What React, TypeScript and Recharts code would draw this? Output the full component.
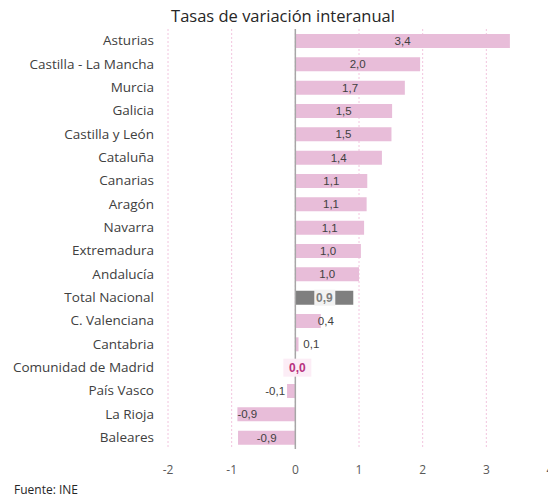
import React from 'react';
import { BarChart, Bar, XAxis, YAxis, CartesianGrid, ReferenceLine, LabelList, Cell } from 'recharts';

const regions = [
  'Asturias', 'Castilla - La Mancha', 'Murcia', 'Galicia', 'Castilla y León', 'Cataluña',
  'Canarias', 'Aragón', 'Navarra', 'Extremadura', 'Andalucía', 'Total Nacional',
  'C. Valenciana', 'Cantabria', 'Comunidad de Madrid', 'País Vasco', 'La Rioja', 'Baleares',
];
const rates = [3.37, 1.96, 1.72, 1.52, 1.51, 1.36, 1.13, 1.12, 1.08, 1.03, 1.0, 0.91, 0.4, 0.05, 0.01, -0.13, -0.91, -0.9];
const rateLabels = ['3,4', '2,0', '1,7', '1,5', '1,5', '1,4', '1,1', '1,1', '1,1', '1,0', '1,0', '0,9', '0,4', '0,1', '0,0', '-0,1', '-0,9', '-0,9'];
const xTicks = [-2, -1, 0, 1, 2, 3, 4];

const PINK = '#E8BDD9';
const GREY = '#7F7F7F';
const TOTAL = 'Total Nacional';
const ZERO_ROW = 'Comunidad de Madrid';
const LEFT_LABEL = 'La Rioja';

const data = regions.map((name, i) => ({ name, value: rates[i], label: rateLabels[i] }));

// label content is looked up by region name, recharts' index can skip rows
const ValueLabel = (props: any) => {
  const { x, y, width, height, value } = props;
  const row = data.find((d) => d.name === value);
  if (!row) return null;
  const left = Math.min(x, x + width);
  const right = Math.max(x, x + width);
  const w = right - left;
  const cy = y + height / 2;
  const base = { fontFamily: 'Liberation Sans, Arial, sans-serif', fontSize: 11.5, fill: '#404040' };

  if (row.name === TOTAL) {
    const cx = (left + right) / 2;
    return (
      <g>
        <rect x={cx - 10} y={cy - 8} width={21} height={16} fill="#F2F2F2" />
        <text x={cx} y={cy} dy={4.5} textAnchor="middle" {...base} fontSize={12} fontWeight="bold" fill={GREY}>{row.label}</text>
      </g>
    );
  }
  if (row.name === ZERO_ROW) {
    return (
      <g>
        <rect x={left - 12} y={cy - 9} width={28} height={18} fill="#FCEDF6" />
        <text x={left + 2} y={cy} dy={4.5} textAnchor="middle" {...base} fontSize={12} fontWeight="bold" fill="#B8327F">{row.label}</text>
      </g>
    );
  }
  if (row.name === LEFT_LABEL) {
    return <text x={left} y={cy} dy={4} textAnchor="start" {...base}>{row.label}</text>;
  }
  if (w >= 30) {
    return <text x={(left + right) / 2} y={cy} dy={4} textAnchor="middle" {...base}>{row.label}</text>;
  }
  if (row.value < 0) {
    return <text x={left - 2} y={cy} dy={4} textAnchor="end" {...base}>{row.label}</text>;
  }
  return <text x={Math.max(right - 3, left + 8)} y={cy} dy={4} textAnchor="start" {...base}>{row.label}</text>;
};

export default function App() {
  return (
    <div style={{ position: 'fixed', left: 0, top: 0, width: 548, height: 497, overflow: 'hidden', background: '#fff' }}>
      <div
        style={{
          position: 'absolute', left: 0, top: 4, width: 566, textAlign: 'center',
          fontFamily: 'Open Sans, sans-serif', fontSize: 16.5, color: '#262626',
        }}
      >
        Tasas de variación interanual
      </div>
      <BarChart
        width={560}
        height={497}
        data={data}
        layout="vertical"
        margin={{ top: 29, right: 10, bottom: 18, left: 0 }}
        barCategoryGap={4}
      >
        <CartesianGrid horizontal={false} vertical stroke="#F2C4DE" strokeDasharray="2 2" />
        <XAxis
          type="number"
          domain={[-2, 4]}
          ticks={xTicks}
          interval={0}
          height={30}
          axisLine={false}
          tickLine={false}
          tickMargin={10}
          tick={{ fill: '#595959', fontSize: 12, fontFamily: 'Open Sans, sans-serif' }}
        />
        <YAxis
          type="category"
          dataKey="name"
          width={168}
          axisLine={false}
          tickLine={false}
          tickSize={0}
          tickMargin={14}
          interval={0}
          tick={{ fill: '#404040', fontSize: 13.5, fontFamily: 'Open Sans, sans-serif' }}
        />
        <ReferenceLine x={0} stroke="#A6A6A6" strokeWidth={1.5} />
        <Bar dataKey="value" barSize={14} isAnimationActive={false}>
          {data.map((d) => (
            <Cell key={d.name} fill={d.name === TOTAL ? GREY : PINK} />
          ))}
          <LabelList dataKey="name" content={ValueLabel} />
        </Bar>
      </BarChart>
      <div
        style={{
          position: 'absolute', left: 14, top: 481,
          fontFamily: 'Open Sans, sans-serif', fontSize: 12, color: '#262626',
        }}
      >
        Fuente: INE
      </div>
    </div>
  );
}
